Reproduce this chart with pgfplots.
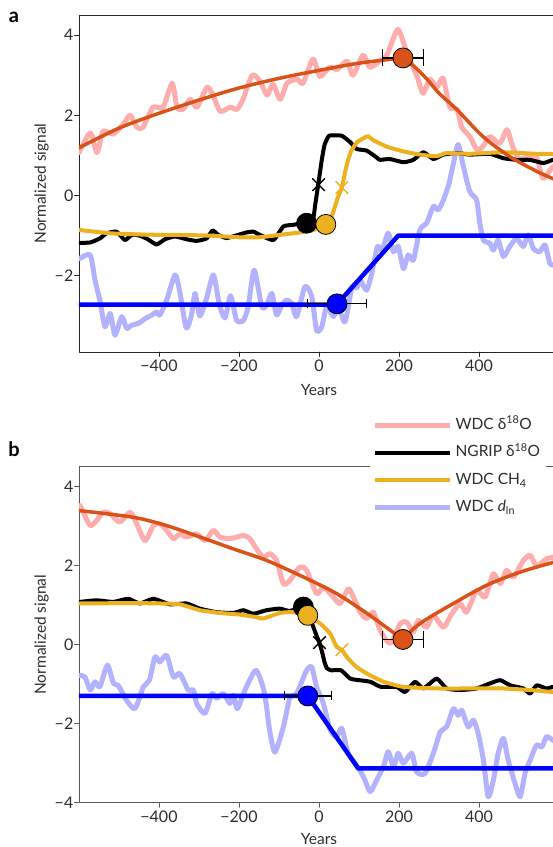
\documentclass[border=0pt]{standalone}
\usepackage{pgfplots}
\pgfplotsset{compat=1.18}
\usepackage{fontspec}
\setmainfont{Lato}
\definecolor{pinkc}{RGB}{255,172,172}
\definecolor{fitc}{RGB}{217,83,25}
\definecolor{yelc}{RGB}{237,177,32}
\definecolor{lavc}{RGB}{178,178,255}
\definecolor{bluec}{RGB}{0,0,255}
\definecolor{textc}{RGB}{45,45,45}
\begin{document}
\begin{tikzpicture}
\useasboundingbox (0pt,0pt) rectangle (553pt,-847pt);
\pgfplotsset{
  myax/.style={
    scale only axis, width=480pt,
    xmin=-600, xmax=600,
    xtick={-400,-200,0,200,400}, xticklabels={−400,−200,0,200,400},
    tick align=outside, xtick pos=bottom, ytick pos=left,
    major tick length=4.5pt,
    tick style={line width=0.8pt, color=#1},
    axis line style={line width=0.8pt, color=#1},
    ticklabel style={font=\fontsize{16}{16}\selectfont, text=textc},
    yticklabel style={inner xsep=1pt},
    label style={font=\fontsize{15.5}{16}\selectfont, text=textc},
    xlabel={Years}, ylabel={Normalized signal},
    ylabel style={at={(axis description cs:-0.078,0.5)}, anchor=center},
    line join=round, line cap=round,
  },
  circ/.style={only marks, mark=*, mark size=10pt, mark options={fill=#1, draw=black, line width=0.8pt}},
  xm/.style={only marks, mark=x, mark size=8.5pt, mark options={line width=1.4pt, color=#1}},
}
% ---------- panel a ----------
\begin{axis}[myax={black!85}, at={(79pt,-15pt)}, anchor=north west, height=337pt,
  ymin=-3.9, ymax=4.5, ytick={-2,0,2,4}, yticklabels={−2,0,2,4},
  xlabel style={at={(axis description cs:0.5,-0.113)}, anchor=center}]
\addplot[pinkc, line width=5pt, smooth, tension=0.4] coordinates {(-600,1.07)(-572,1.56)(-555,1.07)(-540,1.6)(-515,1.53)(-490,1.77)(-472,2.0)(-455,1.7)(-440,1.7)(-415,2.2)(-390,2.2)(-367,2.8)(-355,2.2)(-340,2.15)(-322,2.4)(-305,2.2)(-280,2.7)(-265,2.5)(-247,2.1)(-222,2.2)(-205,2.15)(-190,2.4)(-167,3.0)(-147,2.85)(-130,2.5)(-115,2.77)(-97,2.4)(-80,2.8)(-55,2.9)(-40,2.8)(-15,3.4)(2,2.97)(27,3.2)(45,3.14)(70,3.35)(85,3.0)(110,3.5)(127,3.2)(152,3.35)(170,3.5)(197,4.14)(220,3.55)(245,2.97)(260,2.55)(277,2.9)(295,2.7)(310,2.93)(327,2.2)(345,2.15)(357,1.7)(377,1.47)(395,1.14)(410,1.22)(427,1.47)(452,1.3)(470,1.64)(485,1.2)(502,0.9)(527,1.0)(545,0.93)(560,0.43)(585,0.72)(600,0.6)};
\addplot[lavc, line width=5pt, smooth, tension=0.4] coordinates {(-598,-1.57)(-572,-1.48)(-560,-2.11)(-548,-2.61)(-535,-3.27)(-522,-2.94)(-510,-3.48)(-493,-3.02)(-481,-3.31)(-468,-3.23)(-452,-3.19)(-435,-3.07)(-418,-2.98)(-406,-2.9)(-398,-2.98)(-381,-2.61)(-360,-1.98)(-348,-2.4)(-332,-3.3)(-318,-2.94)(-310,-2.44)(-298,-3.0)(-281,-2.56)(-264,-1.98)(-249,-2.72)(-235,-3.05)(-221,-2.5)(-206,-3.11)(-189,-3.11)(-177,-2.77)(-162,-1.86)(-143,-2.77)(-131,-2.73)(-118,-2.44)(-106,-2.98)(-93,-2.73)(-81,-2.61)(-68,-2.69)(-56,-3.02)(-35,-2.27)(-18,-2.52)(-6,-3.36)(7,-3.27)(19,-2.77)(36,-3.02)(48,-2.77)(65,-3.15)(82,-2.3)(95,-2.3)(103,-2.11)(119,-2.36)(132,-1.94)(146,-1.27)(158,-1.36)(173,-0.94)(186,-1.4)(198,-1.27)(211,-1.82)(223,-1.48)(236,-1.61)(252,-0.86)(269,-0.69)(286,-0.27)(298,-0.36)(311,-0.11)(325,0.3)(335,0.75)(348,1.27)(361,0.72)(377,0.1)(394,-0.11)(402,-0.69)(411,-1.11)(427,-1.19)(436,-1.36)(448,-1.11)(461,-1.52)(477,-1.27)(494,-1.07)(511,-1.27)(523,-0.98)(536,-1.32)(552,-1.4)(565,-1.23)(577,-1.69)(585,-1.73)(600,-1.8)};
\addplot[black, line width=4pt, smooth, tension=0.3] coordinates {(-598,-1.18)(-572,-1.17)(-548,-1.07)(-531,-0.94)(-506,-0.9)(-485,-1.11)(-468,-0.98)(-448,-1.0)(-428,-1.09)(-406,-1.22)(-385,-1.09)(-360,-1.02)(-331,-1.09)(-306,-1.13)(-281,-1.07)(-266,-0.87)(-252,-0.98)(-231,-1.06)(-202,-0.98)(-181,-0.92)(-164,-0.9)(-148,-0.98)(-114,-1.11)(-89,-0.77)(-64,-0.73)(-43,-0.69)(-31,-0.69)(-20,-0.66)(-14,-0.57)(-9,-0.2)(-2,0.27)(7,0.89)(14,1.27)(24,1.48)(32,1.5)(57,1.49)(78,1.33)(94,1.16)(119,1.12)(144,0.95)(152,0.89)(177,0.91)(211,0.83)(236,0.89)(261,1.08)(286,0.91)(311,1.02)(344,1.06)(377,1.02)(427,1.04)(461,0.93)(494,0.89)(527,0.89)(561,0.81)(585,0.89)(600,0.85)};
\addplot[yelc, line width=4pt, smooth, tension=0.3] coordinates {(-598,-0.86)(-523,-0.94)(-450,-0.97)(-398,-0.98)(-348,-0.98)(-273,-1.0)(-200,-1.04)(-148,-1.04)(-98,-0.98)(-48,-0.92)(-14,-0.86)(17,-0.72)(28,-0.6)(36,-0.4)(47,-0.05)(57,0.2)(69,0.75)(80,1.1)(95,1.33)(110,1.42)(122,1.48)(136,1.38)(169,1.22)(211,1.1)(252,1.02)(294,0.98)(319,1.06)(377,1.04)(461,1.08)(544,1.04)(600,1.04)};
\addplot[fitc, line width=3.5pt, smooth] coordinates {(-600,1.19)(-500,1.68)(-400,2.05)(-300,2.38)(-200,2.68)(-100,2.92)(0,3.12)(100,3.3)(210,3.43)};
\addplot[fitc, line width=3.5pt, smooth] coordinates {(210,3.43)(240,3.2)(270,2.9)(300,2.55)(345,2.14)(410,1.47)(477,0.97)(545,0.6)(585,0.42)(600,0.36)};
\addplot[bluec, line width=4.5pt] coordinates {(-600,-2.72)(44,-2.72)(198,-1.0)(600,-1.0)};
\addplot[xm=black] coordinates {(-1,0.27)};
\addplot[xm=yelc] coordinates {(57,0.2)};
\addplot[circ=black] coordinates {(-31,-0.69)};
\addplot[circ=yelc] coordinates {(17,-0.72)};
\addplot[circ=fitc, error bars/.cd, x dir=both, x explicit,
  error bar style={line width=1.2pt, black},
  error mark options={rotate=90, mark size=8.5pt, line width=1.2pt, black}] coordinates {(210,3.43) +- (51,0)};
\addplot[circ=bluec, error bars/.cd, x dir=both, x explicit,
  error bar style={line width=1.2pt, black},
  error mark options={rotate=90, mark size=4.5pt, line width=1.2pt, black}] coordinates {(45,-2.7) +- (74,0)};
\end{axis}
\node[font=\fontsize{20}{20}\selectfont\bfseries, anchor=center] at (14pt,-17pt) {a};
% ---------- panel b ----------
\begin{axis}[myax={black!65}, at={(79pt,-466.7pt)}, anchor=north west, height=336pt,
  ymin=-4, ymax=4.5, ytick={-4,-2,0,2,4}, yticklabels={−4,−2,0,2,4},
  xlabel style={at={(axis description cs:0.5,-0.108)}, anchor=center},
  legend cell align=left,
  legend image code/.code={\draw[#1] (0pt,0pt) -- (75pt,0pt);},
  legend style={draw=none, fill=white, at={(axis description cs:0.605,1.165)}, anchor=north west,
    font=\fontsize{15.5}{16}\selectfont, text=textc, inner xsep=3pt, inner ysep=1pt,
    row sep=2.4pt, nodes={text height=12pt, text depth=4pt, inner ysep=4.6pt, inner xsep=3pt}}]
\addlegendimage{pinkc, line width=5pt}
\addlegendentry{WDC δ\textsuperscript{18}O}
\addlegendimage{black, line width=4pt}
\addlegendentry{NGRIP δ\textsuperscript{18}O}
\addlegendimage{yelc, line width=4pt}
\addlegendentry{WDC CH\textsubscript{4}}
\addlegendimage{lavc, line width=5pt}
\addlegendentry{WDC \textit{d}\textsubscript{ln}}
\addplot[pinkc, line width=5pt, smooth, tension=0.4, forget plot] coordinates {(-598,3.52)(-589,3.35)(-572,3.01)(-556,3.14)(-539,3.35)(-522,3.31)(-498,3.1)(-472,3.35)(-456,3.06)(-435,2.63)(-414,3.01)(-398,3.06)(-381,2.89)(-364,2.68)(-348,2.8)(-331,2.72)(-306,2.8)(-285,2.63)(-264,2.89)(-248,2.72)(-223,2.68)(-206,2.72)(-189,2.76)(-173,2.68)(-156,2.42)(-139,2.21)(-123,2.3)(-106,2.13)(-89,1.54)(-73,1.62)(-48,1.96)(-31,1.88)(-6,1.29)(11,1.45)(36,1.2)(53,1.04)(73,1.41)(86,1.2)(103,0.82)(119,0.66)(136,0.82)(153,0.36)(178,0.03)(203,0.53)(219,0.57)(236,0.32)(248,0.61)(269,0.44)(286,0.74)(311,0.44)(332,0.78)(353,1.04)(369,0.82)(394,1.37)(415,1.2)(436,1.79)(453,1.54)(469,1.88)(486,1.71)(511,2.13)(528,2.26)(544,2.0)(569,2.17)(585,2.21)(600,2.3)};
\addplot[lavc, line width=5pt, smooth, tension=0.4, forget plot] coordinates {(-598,-0.78)(-585,-0.82)(-572,-1.15)(-560,-0.94)(-548,-1.07)(-529,-0.52)(-514,-0.98)(-502,-1.03)(-481,-1.41)(-460,-1.62)(-439,-1.07)(-424,-0.9)(-410,-0.31)(-398,-0.44)(-381,-0.27)(-364,-0.82)(-348,-0.73)(-327,-1.15)(-314,-1.15)(-306,-1.49)(-285,-1.74)(-268,-1.24)(-256,-1.36)(-239,-1.24)(-223,-1.49)(-214,-1.28)(-204,-1.62)(-185,-1.15)(-158,-0.65)(-139,-1.11)(-131,-1.58)(-123,-2.2)(-110,-2.72)(-89,-2.08)(-73,-1.35)(-56,-1.24)(-31,-0.65)(-18,-0.57)(-6,-1.07)(11,-1.49)(28,-2.16)(44,-2.33)(57,-2.12)(73,-2.75)(90,-3.0)(111,-3.34)(128,-3.72)(144,-3.43)(161,-3.09)(173,-2.71)(186,-3.09)(198,-2.75)(211,-3.0)(232,-2.75)(244,-3.22)(265,-3.26)(286,-2.75)(303,-2.21)(319,-2.08)(336,-1.62)(348,-1.79)(357,-1.66)(373,-2.08)(386,-1.91)(398,-2.25)(411,-2.92)(423,-3.85)(436,-3.43)(448,-2.75)(461,-2.37)(473,-2.92)(490,-3.51)(503,-3.85)(515,-3.26)(528,-2.92)(544,-2.54)(557,-2.59)(569,-2.33)(585,-2.42)(600,-2.5)};
\addplot[black, line width=4pt, smooth, tension=0.3, forget plot] coordinates {(-598,1.08)(-556,1.12)(-514,1.08)(-477,1.16)(-448,1.04)(-414,1.16)(-373,1.02)(-331,1.04)(-298,0.91)(-256,0.82)(-214,0.8)(-189,0.87)(-164,0.78)(-131,0.87)(-98,0.91)(-73,0.85)(-39,0.95)(-25,0.75)(-14,0.44)(-5,0.2)(1,0.05)(8,-0.2)(14,-0.45)(20,-0.6)(30,-0.65)(55,-0.65)(78,-0.86)(100,-0.9)(128,-0.94)(155,-1.07)(194,-1.07)(215,-1.2)(240,-0.94)(261,-1.11)(294,-0.86)(319,-1.11)(353,-1.15)(394,-1.11)(428,-0.98)(453,-0.9)(478,-1.03)(511,-1.11)(528,-1.24)(544,-1.03)(569,-1.11)(585,-1.07)(600,-1.1)};
\addplot[yelc, line width=4pt, smooth, tension=0.3, forget plot] coordinates {(-598,1.04)(-464,1.05)(-398,1.04)(-348,1.02)(-298,0.87)(-248,0.8)(-198,0.76)(-160,0.7)(-139,0.66)(-98,0.8)(-64,0.82)(-28,0.74)(3,0.53)(28,0.28)(44,-0.06)(57,-0.13)(69,-0.31)(94,-0.57)(128,-0.78)(153,-0.9)(161,-0.94)(211,-1.07)(294,-1.11)(378,-1.11)(461,-1.11)(528,-1.15)(585,-1.2)(600,-1.2)};
\addplot[fitc, line width=3.5pt, smooth, forget plot] coordinates {(-600,3.39)(-464,3.22)(-381,3.01)(-297,2.72)(-214,2.42)(-131,2.13)(-39,1.71)(44,1.29)(127,0.74)(209,0.13)};
\addplot[fitc, line width=3.5pt, smooth, forget plot] coordinates {(209,0.13)(252,0.53)(336,1.04)(419,1.5)(502,1.83)(585,2.08)(600,2.12)};
\addplot[bluec, line width=4.5pt, forget plot] coordinates {(-600,-1.3)(-28,-1.3)(98,-3.13)(600,-3.13)};
\addplot[xm=black, forget plot] coordinates {(1,0.05)};
\addplot[xm=yelc, forget plot] coordinates {(57,-0.13)};
\addplot[circ=black, forget plot] coordinates {(-39,0.95)};
\addplot[circ=yelc, forget plot] coordinates {(-28,0.74)};
\addplot[circ=fitc, forget plot, error bars/.cd, x dir=both, x explicit,
  error bar style={line width=1.2pt, black},
  error mark options={rotate=90, mark size=8.5pt, line width=1.2pt, black}] coordinates {(210,0.13) +- (51,0)};
\addplot[circ=bluec, forget plot, error bars/.cd, x dir=both, x explicit,
  error bar style={line width=1.2pt, black},
  error mark options={rotate=90, mark size=4.5pt, line width=1.2pt, black}] coordinates {(-28,-1.3) +- (59,0)};
\end{axis}
\node[font=\fontsize{20}{20}\selectfont\bfseries, anchor=center] at (14pt,-449pt) {b};
\end{tikzpicture}
\end{document}
